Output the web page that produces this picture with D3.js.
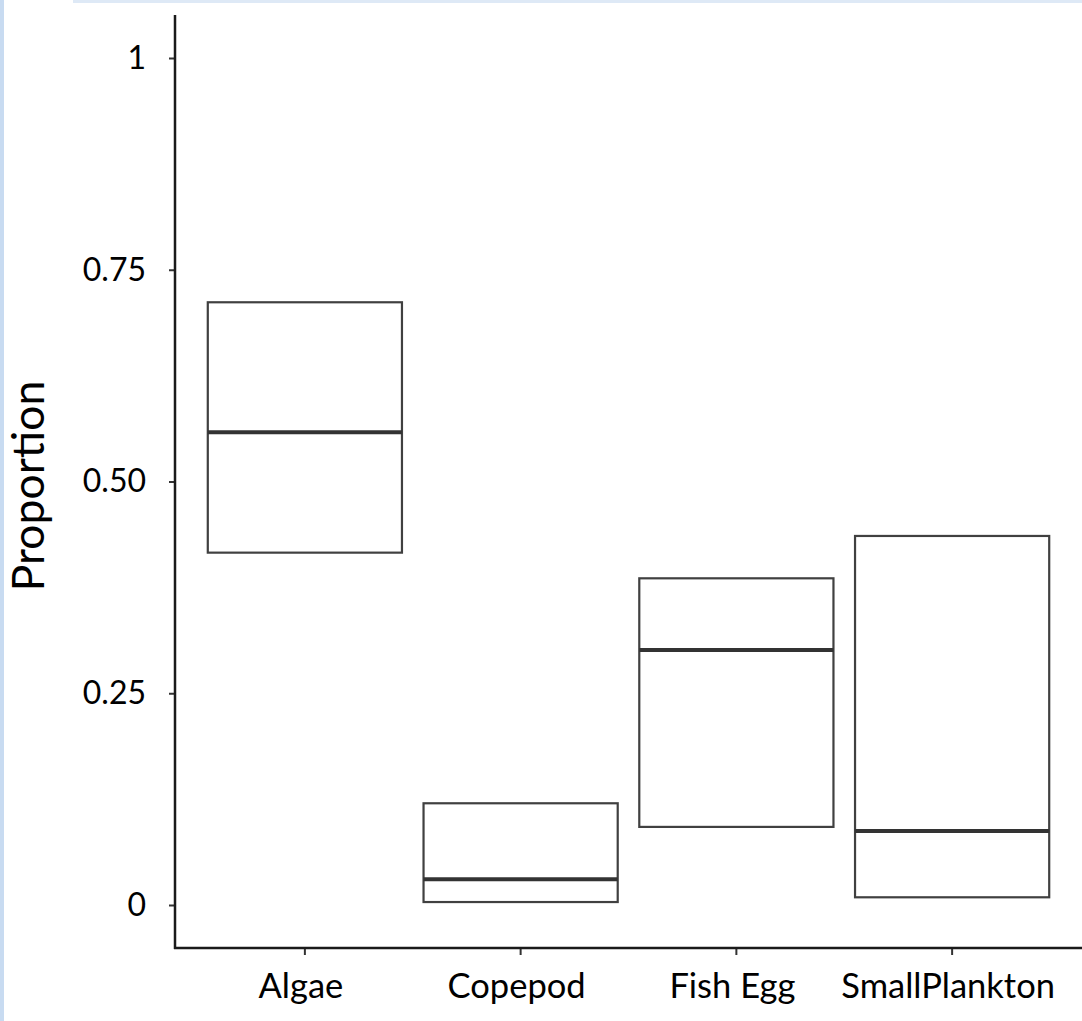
<!DOCTYPE html>
<html lang="en">
<head>
    <meta charset="utf-8">
    <title>Proportion</title>
    <script src="https://d3js.org/d3.v7.min.js"></script>
    <style>
        body { margin: 0; background: #fff; }
        svg { display: block; }
    </style>
</head>
<body>
<svg width="1082" height="1021"></svg>
<script>
    // data
    var categories = ["Algae", "Copepod", "Fish Egg", "SmallPlankton"];
    var lower  = [0.416, 0.0035, 0.0922, 0.0091];
    var median = [0.558, 0.0303, 0.3011, 0.0874];
    var upper  = [0.7116, 0.1201, 0.3857, 0.4357];
    var yTicks = [0, 0.25, 0.5, 0.75, 1];
    var yTickLabels = ["0", "0.25", "0.50", "0.75", "1"];

    var svg = d3.select("svg");
    var font = "Lato, 'Open Sans', sans-serif";

    // thin blue frame at left/top edges
    svg.append("rect").attr("x", 0).attr("y", 0).attr("width", 4).attr("height", 1021).attr("fill", "#c8dbf1");
    svg.append("rect").attr("x", 73).attr("y", 0).attr("width", 1009).attr("height", 3).attr("fill", "#dee9f6");

    var yScale = d3.scaleLinear()
        .domain([0, 1])
        .range([905, 58]);

    var xScale = d3.scaleBand()
        .domain(categories)
        .range([197, 1060])
        .paddingInner(0.1)
        .paddingOuter(0.05);

    var axisX = 175, axisY = 948;

    // y axis
    var yAxis = d3.axisLeft(yScale)
        .tickValues(yTicks)
        .tickFormat(function(d, i){ return yTickLabels[i]; })
        .tickSize(6)
        .tickPadding(23);
    var gy = svg.append("g")
        .attr("transform", "translate(" + axisX + ",0)")
        .call(yAxis);
    gy.select(".domain").remove();
    gy.selectAll("line").attr("stroke", "#333").attr("stroke-width", 2);
    gy.selectAll("text").attr("font-family", font).attr("font-size", 32).attr("fill", "#000");

    // x axis
    var xAxis = d3.axisBottom(xScale)
        .tickSize(7)
        .tickPadding(19);
    var gx = svg.append("g")
        .attr("transform", "translate(0," + axisY + ")")
        .call(xAxis);
    gx.select(".domain").remove();
    gx.selectAll("line").attr("stroke", "#333").attr("stroke-width", 2);
    gx.selectAll("text").attr("font-family", font).attr("font-size", 34.5).attr("fill", "#000")
        .attr("dx", -4);

    // axis lines
    svg.append("line")
        .attr("x1", axisX).attr("x2", axisX)
        .attr("y1", 15).attr("y2", axisY + 1)
        .attr("stroke", "#1a1a1a").attr("stroke-width", 2.5);
    svg.append("line")
        .attr("x1", axisX - 1).attr("x2", 1082)
        .attr("y1", axisY).attr("y2", axisY)
        .attr("stroke", "#1a1a1a").attr("stroke-width", 2.5);

    // boxes
    var g = svg.append("g");
    categories.forEach(function(c, i){
        g.append("rect")
            .attr("x", xScale(c))
            .attr("y", yScale(upper[i]))
            .attr("width", xScale.bandwidth())
            .attr("height", yScale(lower[i]) - yScale(upper[i]))
            .attr("fill", "#fff")
            .attr("stroke", "#404040")
            .attr("stroke-width", 2.2);
        g.append("line")
            .attr("x1", xScale(c)).attr("x2", xScale(c) + xScale.bandwidth())
            .attr("y1", yScale(median[i])).attr("y2", yScale(median[i]))
            .attr("stroke", "#333")
            .attr("stroke-width", 4);
    });

    // y title
    svg.append("text")
        .attr("transform", "translate(44,486) rotate(-90)")
        .attr("text-anchor", "middle")
        .attr("font-family", font)
        .attr("font-size", 44.5)
        .attr("fill", "#000")
        .text("Proportion");
</script>
</body>
</html>
